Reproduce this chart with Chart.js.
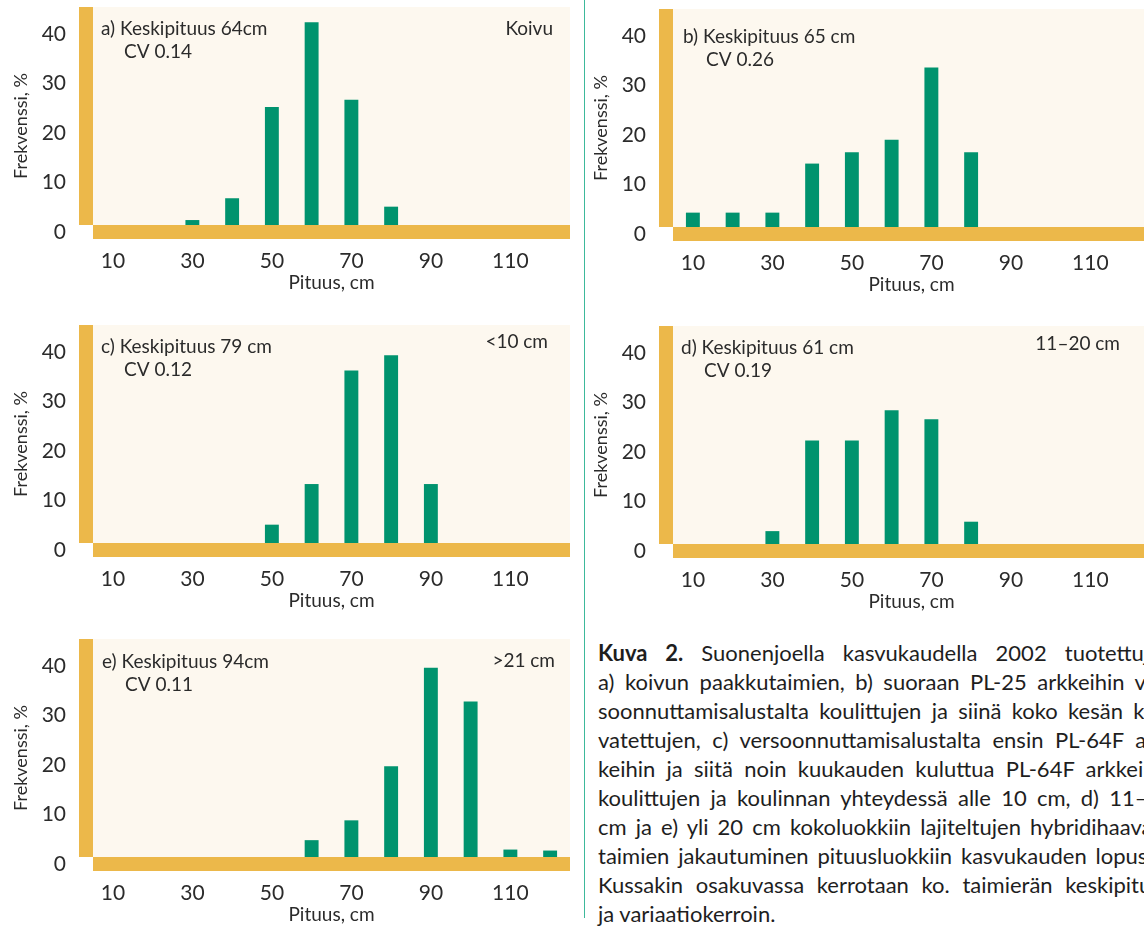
<!DOCTYPE html>
<html>
<head>
<meta charset="utf-8">
<script src="https://cdn.jsdelivr.net/npm/chart.js@4.4.0/dist/chart.umd.min.js"></script>
<style>
    html, body { margin: 0; padding: 0; background: #fff; }
    body { width: 1144px; height: 927px; overflow: hidden; position: relative; font-family: Lato, sans-serif; }
    canvas { position: absolute; }
    #divider { position: absolute; left: 584px; top: 0; width: 1px; height: 918px; background: #3db99b; }
    #caption { position: absolute; left: 598px; top: 638px; width: 575px; font-size: 22px; line-height: 29px; color: #1e1e1e; }
    #caption div { text-align: justify; text-align-last: justify; white-space: nowrap; }
    #caption div.last { text-align-last: left; }
</style>
</head>
<body>
<canvas id="panel-a" width="580" height="300" style="left:0;top:0"></canvas>
<canvas id="panel-b" width="580" height="300" style="left:580px;top:2px"></canvas>
<canvas id="panel-c" width="580" height="300" style="left:0;top:318px"></canvas>
<canvas id="panel-d" width="580" height="300" style="left:580px;top:319px"></canvas>
<canvas id="panel-e" width="580" height="300" style="left:0;top:632px"></canvas>
<div id="divider"></div>
<div id="caption">
    <div><b>Kuva 2.</b> Suonenjoella kasvukaudella 2002 tuotettujen</div>
    <div>a) koivun paakkutaimien, b) suoraan PL-25 arkkeihin ver-</div>
    <div>soonnuttamisalustalta koulittujen ja siinä koko kesän kas-</div>
    <div>vatettujen, c) versoonnuttamisalustalta ensin PL-64F ark-</div>
    <div>keihin ja siitä noin kuukauden kuluttua PL-64F arkkeihin</div>
    <div>koulittujen ja koulinnan yhteydessä alle 10 cm, d) 11–20</div>
    <div>cm ja e) yli 20 cm kokoluokkiin lajiteltujen hybridihaavan-</div>
    <div>taimien jakautuminen pituusluokkiin kasvukauden lopussa.</div>
    <div>Kussakin osakuvassa kerrotaan ko. taimierän keskipituus</div>
    <div class="last">ja variaatiokerroin.</div>
</div>
<script>
(function() {
    'use strict';

    // Height classes (cm) and the labels shown under the axis
    const categories = ['10', '20', '30', '40', '50', '60', '70', '80', '90', '100', '110', '120'];
    const xTickLabels = ['10', '30', '50', '70', '90', '110'];

    // Frequencies, % per height class
    const koivu     = [0, 0, 1.0, 5.4, 23.8, 40.9, 25.3, 3.7, 0, 0, 0, 0];
    const pl25      = [2.9, 2.9, 2.9, 12.8, 15.1, 17.6, 32.2, 15.1, 0, 0, 0, 0];
    const alle10    = [0, 0, 0, 0, 3.7, 11.9, 34.8, 37.9, 11.9, 0, 0, 0];
    const luokka11  = [0, 0, 2.6, 20.9, 20.9, 27.0, 25.2, 4.5, 0, 0, 0, 0];
    const yli21     = [0, 0, 0, 0, 0, 3.4, 7.4, 18.3, 38.2, 31.4, 1.5, 1.3];

    // Panel texts
    const noteTitles = ['a) Keskipituus 64cm', 'b) Keskipituus 65 cm', 'c) Keskipituus 79 cm', 'd) Keskipituus 61 cm', 'e) Keskipituus 94cm'];
    const cvLabels = ['CV 0.14', 'CV 0.26', 'CV 0.12', 'CV 0.19', 'CV 0.11'];
    const groupLabels = ['Koivu', '', '<10 cm', '11–20 cm', '>21 cm'];

    const colors = {
        bar: '#00936e',
        band: '#ecb84a',
        paper: '#fdf8ef',
        text: '#2b2b2b'
    };

    // Text placement inside each plot (px from left/right edge and top of plot)
    const notePos = [{ x: 8, y: 22 }, { x: 10, y: 28 }, { x: 8, y: 22 }, { x: 8, y: 22 }, { x: 9, y: 23 }];
    const groupPos = [{ r: 17, t: 22 }, { r: 0, t: 0 }, { r: 22, t: 17 }, { r: 30, t: 18 }, { r: 15, t: 22 }];

    // Cream plot area, orange L-shaped axis bands and the panel notes
    const panelPlugin = {
        id: 'panelDecor',
        beforeDatasetsDraw: function(chart) {
            const a = chart.chartArea;
            const ctx = chart.ctx;
            ctx.save();
            ctx.fillStyle = colors.paper;
            ctx.fillRect(a.left, a.top, a.right - a.left, a.bottom - a.top);
            ctx.fillStyle = colors.band;
            ctx.fillRect(a.left - 14, a.top, 14, a.bottom - a.top);
            ctx.fillRect(a.left, a.bottom, a.right - a.left, 14);
            ctx.restore();
        },
        afterDraw: function(chart, args, opts) {
            const a = chart.chartArea;
            const ctx = chart.ctx;
            ctx.save();
            ctx.fillStyle = colors.text;
            ctx.textBaseline = 'middle';
            ctx.font = '19px Lato';
            ctx.textAlign = 'left';
            ctx.fillText(opts.note, a.left + opts.np.x, a.top + opts.np.y);
            ctx.fillText(opts.cv, a.left + opts.np.x + 23, a.top + opts.np.y + 23);
            if (opts.group) {
                ctx.textAlign = 'right';
                ctx.fillText(opts.group, a.right - opts.gp.r, a.top + opts.gp.t);
            }
            // y axis title, sits a bit below the axis centre in the original
            ctx.translate(21, (a.top + a.bottom) / 2 + 10);
            ctx.rotate(-Math.PI / 2);
            ctx.textAlign = 'center';
            ctx.font = '18px Lato';
            ctx.fillText('Frekvenssi, %', 0, 0);
            ctx.restore();
        }
    };

    function makePanel(id, values, i) {
        const ctx = document.getElementById(id);
        return new Chart(ctx, {
            type: 'bar',
            data: {
                labels: categories,
                datasets: [{
                    data: values,
                    backgroundColor: colors.bar,
                    borderWidth: 0,
                    barPercentage: 0.35,
                    categoryPercentage: 1
                }]
            },
            options: {
                responsive: false,
                animation: false,
                layout: { padding: { left: 0, right: 10, top: 7, bottom: 0 } },
                plugins: {
                    legend: { display: false },
                    tooltip: { enabled: false },
                    panelDecor: {
                        note: noteTitles[i], cv: cvLabels[i], group: groupLabels[i],
                        np: notePos[i], gp: groupPos[i]
                    }
                },
                scales: {
                    x: {
                        grid: { display: false, drawTicks: false },
                        border: { display: false },
                        ticks: {
                            autoSkip: false,
                            maxRotation: 0,
                            padding: 24,
                            color: colors.text,
                            font: { family: 'Lato', size: 21 },
                            callback: function(value, index) {
                                const label = categories[index];
                                return xTickLabels.indexOf(label) >= 0 ? label : '';
                            }
                        },
                        title: {
                            display: true,
                            text: 'Pituus, cm',
                            color: colors.text,
                            font: { family: 'Lato', size: 19 },
                            padding: { top: 0, bottom: 6 }
                        },
                        afterFit: function(scale) {
                            scale.height = 75;
                            scale.paddingLeft = 0;
                            scale.paddingRight = 0;
                        }
                    },
                    y: {
                        min: 0,
                        max: 44,
                        grid: { display: false, drawTicks: false },
                        border: { display: false },
                        ticks: {
                            stepSize: 10,
                            includeBounds: false,
                            padding: 27,
                            labelOffset: 7,
                            color: colors.text,
                            font: { family: 'Lato', size: 21 }
                        },
                        afterFit: function(scale) {
                            scale.width = 93;
                            scale.paddingTop = 0;
                            scale.paddingBottom = 0;
                        }
                    }
                }
            },
            plugins: [panelPlugin]
        });
    }

    makePanel('panel-a', koivu, 0);
    makePanel('panel-b', pl25, 1);
    makePanel('panel-c', alle10, 2);
    makePanel('panel-d', luokka11, 3);
    makePanel('panel-e', yli21, 4);
})();
</script>
</body>
</html>
